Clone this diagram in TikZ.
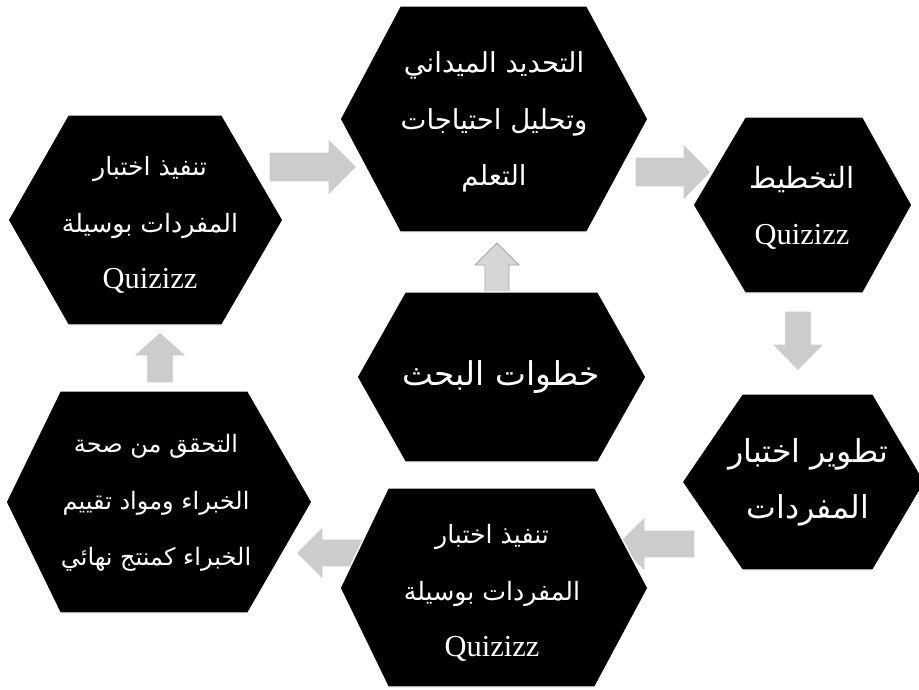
\documentclass[tikz,border=0pt]{standalone}
\usepackage{fontspec}
\setmainfont{Liberation Serif}
\newfontfamily\arabicfont[Script=Arabic]{DejaVu Sans}
\TeXXeTstate=1
\newcommand{\ar}[1]{{\arabicfont\beginR #1\endR}}
\newcommand{\qz}{{\fontsize{26}{48}\selectfont Quizizz}}
\definecolor{arrowgray}{RGB}{204,204,204}
\tikzset{
	hexa/.style={fill=black, draw=white, line width=1.2pt},
	steptext/.style={text=white, align=center, font=\fontsize{#1}{48}\selectfont},
	steptext/.default=22,
	arrowfill/.style={fill=arrowgray, draw=white, line width=1pt},
	arrowline/.style={fill=arrowgray!80, draw=gray!70, line width=0.8pt},
}
% tail x, tail y, angle, length, half body, half head, head length
\newcommand{\garrow}[8][arrowfill]{%
	\draw[#1, shift={(#2,#3)}, rotate=#4]
		(0,-#6) -- ({#5-#8},-#6) -- ({#5-#8},-#7) -- (#5,0)
		-- ({#5-#8},#7) -- ({#5-#8},#6) -- (0,#6) -- cycle;}
\begin{document}
\begin{tikzpicture}[x=0.03cm, y=-0.03cm]
	\useasboundingbox[fill=white] (0,0) rectangle (919,689);
	% arrows first, the hexagons lie over them
	\garrow{269}{167}{0}{88}{15}{29}{29}
	\garrow{635}{172}{0}{76}{15}{29}{28}
	\garrow{798}{311}{-90}{60}{13.5}{26.5}{27}
	\garrow{695}{544}{180}{78}{14}{28}{28}
	\garrow{365}{553}{180}{69}{14}{27}{27}
	\garrow{160}{383}{90}{51}{13.5}{27}{24}
	\garrow[arrowline]{497}{293}{90}{50}{12}{22}{22}
	% hexagons
	\draw[hexa] (340,119) -- (400,6) -- (587,6) -- (648,119) -- (587,232) -- (400,232) -- cycle;
	\draw[hexa] (8,220) -- (68,115) -- (222,115) -- (283,220) -- (222,325) -- (68,325) -- cycle;
	\draw[hexa] (693,205) -- (745,117) -- (863,117) -- (912,205) -- (863,293) -- (745,293) -- cycle;
	\draw[hexa] (682,482) -- (742,394) -- (873,394) -- (925,482) -- (873,570) -- (742,570) -- cycle;
	\draw[hexa] (340,588) -- (388,488) -- (595,488) -- (648,588) -- (595,687) -- (388,687) -- cycle;
	\draw[hexa] (6,502) -- (60,391) -- (248,391) -- (312,502) -- (248,613) -- (60,613) -- cycle;
	\draw[hexa] (357,377) -- (405,292) -- (598,292) -- (646,377) -- (598,462) -- (405,462) -- cycle;
	% labels
	\node[steptext=23.5] (analysis) at (494,122) {\ar{التحديد الميداني}\\\ar{وتحليل احتياجات}\\\ar{التعلم}};
	\node[steptext=25] (planning) at (802,208) {\ar{التخطيط}\\\qz};
	\node[steptext=27] (develop) at (808,482) {\ar{تطوير اختبار}\\\ar{المفردات}};
	\node[steptext=21.5] (trial) at (492,593) {\ar{تنفيذ اختبار}\\\ar{المفردات بوسيلة}\\\qz};
	\node[steptext=20.5] (validate) at (156,503) {\ar{التحقق من صحة}\\\ar{الخبراء ومواد تقييم}\\\ar{الخبراء كمنتج نهائي}};
	\node[steptext=21.5] (implement) at (150,225) {\ar{تنفيذ اختبار}\\\ar{المفردات بوسيلة}\\\qz};
	\node[steptext=28] (steps) at (501,377) {\ar{خطوات البحث}};
\end{tikzpicture}
\end{document}
